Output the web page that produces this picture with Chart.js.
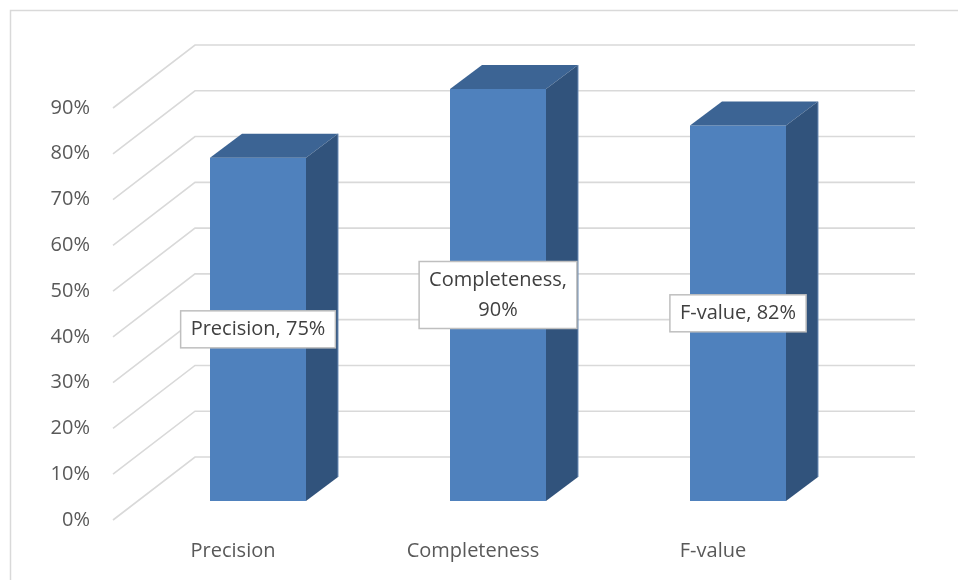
<!DOCTYPE html>
<html>
<head>
<meta charset="utf-8">
<script src="https://cdn.jsdelivr.net/npm/chart.js@4/dist/chart.umd.min.js"></script>
<style>
  html, body { margin: 0; padding: 0; background: #fff; }
  #wrap { width: 958px; height: 580px; }
</style>
</head>
<body>
<div id="wrap"><canvas id="myChart" width="958" height="580"></canvas></div>
<script>
'use strict';

// data
var categories = ['Precision', 'Completeness', 'F-value'];
var values = [75, 90, 82];
var yTicks = [0, 10, 20, 30, 40, 50, 60, 70, 80, 90];
var yTickLabels = ['0%', '10%', '20%', '30%', '40%', '50%', '60%', '70%', '80%', '90%'];

// 3d look
var depth = { dx: 32, dy: -24 };     // bar depth
var back = { dx: 57, dy: -44 };      // bar plane -> back wall
var front = { dx: -25, dy: 19 };     // bar plane -> front edge
var font = '20px "Open Sans"';
var gridColor = '#d9d9d9';
var textColor = '#595959';

var frame3d = {
  id: 'frame3d',
  beforeDatasetsDraw: function(chart) {
    var c = chart.ctx, y = chart.scales.y, a = chart.chartArea;
    c.save();
    // outer border
    c.strokeStyle = gridColor;
    c.lineWidth = 1.5;
    c.beginPath();
    c.moveTo(10.5, 600);
    c.lineTo(10.5, 10.5);
    c.lineTo(960, 10.5);
    c.stroke();

    c.strokeStyle = gridColor;
    c.lineWidth = 1.6;
    yTicks.forEach(function(v, i) {
      var py = y.getPixelForValue(v);
      c.beginPath();
      c.moveTo(a.left + front.dx, py + front.dy);
      c.lineTo(a.left + back.dx, py + back.dy);
      c.lineTo(a.right + back.dx, py + back.dy);
      c.stroke();

      c.fillStyle = textColor;
      c.font = font;
      c.textAlign = 'right';
      c.textBaseline = 'middle';
      c.fillText(yTickLabels[i], 90, py + front.dy);
    });

    var x = chart.scales.x;
    c.textAlign = 'center';
    categories.forEach(function(cat, i) {
      c.fillText(cat, x.getPixelForValue(i) + front.dx, 551);
    });
    c.restore();
  },
  afterDatasetsDraw: function(chart) {
    var c = chart.ctx;
    var meta = chart.getDatasetMeta(0);
    c.save();
    meta.data.forEach(function(bar, i) {
      var l = bar.x - bar.width / 2, r = bar.x + bar.width / 2;
      var t = bar.y, b = bar.base;
      // top face
      c.fillStyle = '#3c6494';
      c.beginPath();
      c.moveTo(l, t);
      c.lineTo(l + depth.dx, t + depth.dy);
      c.lineTo(r + depth.dx, t + depth.dy);
      c.lineTo(r, t);
      c.closePath();
      c.fill();
      // side face
      c.fillStyle = '#31537c';
      c.beginPath();
      c.moveTo(r, t);
      c.lineTo(r + depth.dx, t + depth.dy);
      c.lineTo(r + depth.dx, b + depth.dy);
      c.lineTo(r, b);
      c.closePath();
      c.fill();
      c.strokeStyle = '#6f8fb8';
      c.lineWidth = 1;
      c.beginPath();
      c.moveTo(r + depth.dx, t + depth.dy);
      c.lineTo(r + depth.dx, b + depth.dy);
      c.stroke();

      // data label
      c.font = font;
      var text = categories[i] + ', ' + values[i] + '%';
      var lines = c.measureText(text).width > 150 ? [categories[i] + ',', values[i] + '%'] : [text];
      var w = 0;
      lines.forEach(function(s) { w = Math.max(w, c.measureText(s).width); });
      w += 20;
      var h = lines.length * 30 + 7;
      var cx = bar.x, cy = (t + b) / 2;
      c.fillStyle = '#ffffff';
      c.fillRect(cx - w / 2, cy - h / 2, w, h);
      c.strokeStyle = '#bfbfbf';
      c.lineWidth = 1.5;
      c.strokeRect(cx - w / 2, cy - h / 2, w, h);
      c.fillStyle = '#404040';
      c.textAlign = 'center';
      c.textBaseline = 'middle';
      lines.forEach(function(s, k) {
        c.fillText(s, cx, cy - (lines.length - 1) * 15 + k * 30);
      });
    });
    c.restore();
  }
};

var ctx = document.getElementById('myChart').getContext('2d');

var chart = new Chart(ctx, {
  type: 'bar',
  data: {
    labels: categories,
    datasets: [{
      data: values,
      backgroundColor: '#4f81bd',
      borderWidth: 0,
      barPercentage: 0.4,
      categoryPercentage: 1
    }]
  },
  options: {
    responsive: false,
    animation: false,
    layout: { padding: { left: 138, right: 100, top: 89, bottom: 79 } },
    plugins: { legend: { display: false }, tooltip: { enabled: false } },
    scales: {
      x: { display: false },
      y: { display: false, min: 0, max: 90, ticks: { stepSize: 10 } }
    }
  },
  plugins: [frame3d]
});
</script>
</body>
</html>
